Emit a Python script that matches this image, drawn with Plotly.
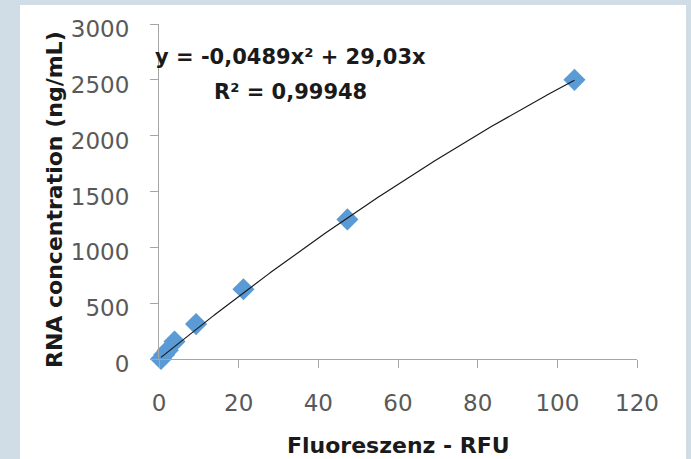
import plotly.graph_objects as go
import numpy as np

# Data
rfu = [0.5, 1.3, 2.2, 3.9, 9.3, 21.2, 47.3, 104.3]
rna = [0, 39, 78, 156, 312.5, 625, 1250, 2500]

# Trendline coefficients (shown in the chart): y = a*x^2 + b*x
coef_a = -0.0489
coef_b = 29.03
eq_text = "y = -0,0489x² + 29,03x"
r2_text = "R² = 0,99948"

x_ticks = [0, 20, 40, 60, 80, 100, 120]
y_ticks = [0, 500, 1000, 1500, 2000, 2500, 3000]

x_title = "Fluoreszenz - RFU"
y_title = "RNA concentration (ng/mL)"

FONT = "DejaVu Sans"
BORDER = "#d1dde6"
W, H = 691, 459
ML, MR, MT, MB = 159, 54, 24, 100
pw = W - ML - MR
ph = H - MT - MB


def px_x(p):
    return (p - ML) / pw


def px_y(p):
    return (H - MB - p) / ph


xfit = np.linspace(min(rfu), max(rfu), 200)
yfit = coef_a * xfit**2 + coef_b * xfit

fig = go.Figure()
fig.add_trace(go.Scatter(
    x=rfu, y=rna, mode="markers",
    marker=dict(symbol="diamond", size=17, color="#5b9bd5", line=dict(width=0)),
    showlegend=False, hoverinfo="x+y", cliponaxis=False))
fig.add_trace(go.Scatter(
    x=xfit, y=yfit, mode="lines",
    line=dict(color="#1a1a1a", width=1.2),
    showlegend=False, hoverinfo="skip"))

fig.add_shape(type="rect", xref="paper", yref="paper", layer="below",
              x0=px_x(20), x1=px_x(686), y0=px_y(480), y1=px_y(5),
              fillcolor="white", line=dict(width=0))

bold = dict(family=FONT, color="#1a1a1a", weight="bold")
ann = dict(xref="paper", yref="paper", showarrow=False, xanchor="center", yanchor="middle")
fig.add_annotation(x=px_x(290), y=px_y(57), text=eq_text, font=dict(size=21, **bold), **ann)
fig.add_annotation(x=px_x(290), y=px_y(92), text=r2_text, font=dict(size=21, **bold), **ann)
fig.add_annotation(x=px_x(398), y=px_y(445), text=x_title, font=dict(size=22, **bold), **ann)
fig.add_annotation(x=px_x(54), y=px_y(200), text=y_title, textangle=-90,
                   font=dict(size=22, **bold), **ann)

axis_common = dict(
    showline=True, linecolor="#a6a6a6", linewidth=1,
    ticks="outside", ticklen=8, tickcolor="#a6a6a6", tickwidth=1,
    showgrid=False, zeroline=False, automargin=False,
    tickfont=dict(family=FONT, size=23, color="#595959"),
)

fig.update_layout(
    width=W, height=H,
    margin=dict(l=ML, r=MR, t=MT, b=MB, pad=0, autoexpand=False),
    paper_bgcolor=BORDER,
    plot_bgcolor="white",
    xaxis=dict(range=[0, 120], tickvals=x_ticks, ticklabelstandoff=15, **axis_common),
    yaxis=dict(range=[0, 3000], tickvals=y_ticks, ticklabelstandoff=16,
               ticklabelshift=5, **axis_common),
)

fig.write_html(
    "out.html",
    config={"displayModeBar": False},
    post_script="document.body.style.margin='0';document.body.style.background='" + BORDER + "';",
)
